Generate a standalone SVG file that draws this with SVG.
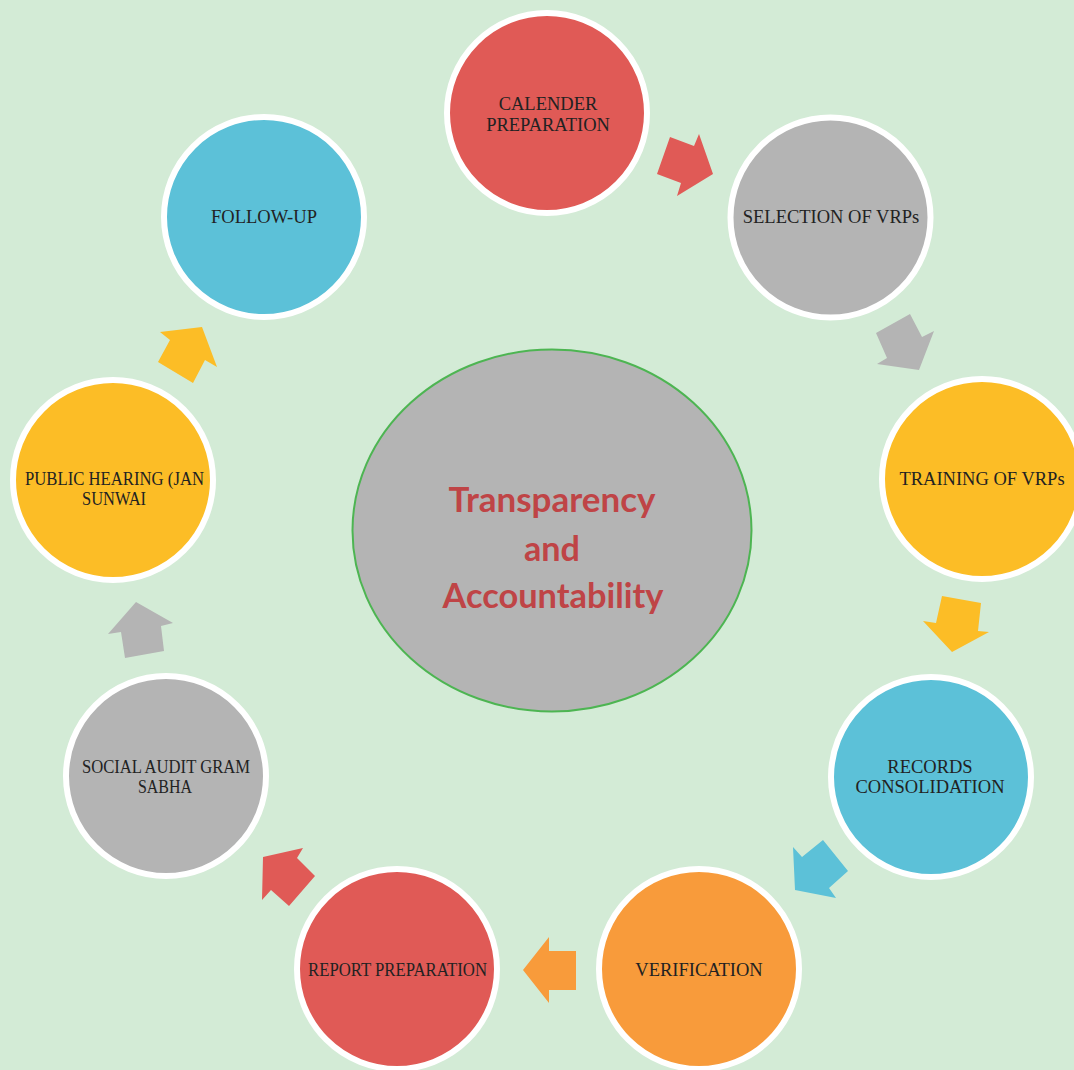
<svg xmlns="http://www.w3.org/2000/svg" width="1074" height="1070" viewBox="0 0 1074 1070">
<style>
.n{stroke:#ffffff;stroke-width:6}
.red{fill:#e05a56}
.gray{fill:#b4b4b4}
.yel{fill:#fcbd26}
.blue{fill:#5cc1d8}
.org{fill:#f89b3b}
.t{font-family:"Liberation Serif","Times New Roman",serif;font-size:18.5px;fill:#222222;text-anchor:middle}
.c{font-family:Lato,"Open Sans",sans-serif;font-weight:bold;font-size:35px;fill:#bf4446;text-anchor:middle}
</style>
<rect width="1074" height="1070" fill="#d3ebd6"/>
<g id="connectors">
<polygon class="red" points="670,137 694,146 699,134 713,174 677,196 681,183 657,174"/>
<polygon class="gray" points="910,314 922,337 934,331 919,370 877,364 887,358 876,333"/>
<polygon class="yel" points="942,596 981,603 978,631 989,632 952,652 923,621 936,623"/>
<polygon class="blue" points="823,840 848,871 829,888 836,898 795,890 793,847 802,857"/>
<polygon class="org" points="549,937 549,951 576,951 576,990 549,990 549,1003 523,970"/>
<polygon class="red" points="263,857 303,848 297,858 315,876 289,906 271,890 262,900"/>
<polygon class="gray" points="136,602 173,623 161,626 164,651 125,658 121,632 108,634"/>
<polygon class="yel" points="160,332 202,327 217,367 205,360 193,383 158,362 170,340"/>
</g>
<g id="center">
<ellipse cx="552" cy="530.5" rx="199.5" ry="181" fill="#b4b4b4" stroke="#4db552" stroke-width="2"/>
<text class="c" x="552" y="512" textLength="207" lengthAdjust="spacingAndGlyphs">Transparency</text>
<text class="c" x="552" y="561" textLength="56" lengthAdjust="spacingAndGlyphs">and</text>
<text class="c" x="553" y="608" textLength="221" lengthAdjust="spacingAndGlyphs">Accountability</text>
</g>
<g id="calender">
<circle class="n red" cx="547" cy="113" r="100"/>
<text class="t" x="548" y="110">CALENDER</text>
<text class="t" x="548" y="131">PREPARATION</text>
</g>
<g id="selection">
<circle class="n gray" cx="830.5" cy="217.5" r="100"/>
<text class="t" x="831" y="223">SELECTION OF VRPs</text>
</g>
<g id="training">
<circle class="n yel" cx="982" cy="479" r="100"/>
<text class="t" x="982" y="485">TRAINING OF VRPs</text>
</g>
<g id="records">
<circle class="n blue" cx="931" cy="777" r="100"/>
<text class="t" x="930" y="773">RECORDS</text>
<text class="t" x="930" y="793">CONSOLIDATION</text>
</g>
<g id="verification">
<circle class="n org" cx="699" cy="969" r="100"/>
<text class="t" x="699" y="976">VERIFICATION</text>
</g>
<g id="report">
<circle class="n red" cx="397" cy="969" r="100"/>
<text class="t" x="397.5" y="976" textLength="179" lengthAdjust="spacingAndGlyphs">REPORT PREPARATION</text>
</g>
<g id="socialaudit">
<circle class="n gray" cx="166" cy="776" r="100"/>
<text class="t" x="166" y="773" textLength="168" lengthAdjust="spacingAndGlyphs">SOCIAL AUDIT GRAM</text>
<text class="t" x="165" y="793" textLength="54" lengthAdjust="spacingAndGlyphs">SABHA</text>
</g>
<g id="publichearing">
<circle class="n yel" cx="113" cy="480" r="100"/>
<text class="t" x="114.5" y="485" textLength="179" lengthAdjust="spacingAndGlyphs">PUBLIC HEARING (JAN</text>
<text class="t" x="114" y="505" textLength="64" lengthAdjust="spacingAndGlyphs">SUNWAI</text>
</g>
<g id="followup">
<circle class="n blue" cx="264" cy="217" r="100"/>
<text class="t" x="264" y="223">FOLLOW-UP</text>
</g>
</svg>
